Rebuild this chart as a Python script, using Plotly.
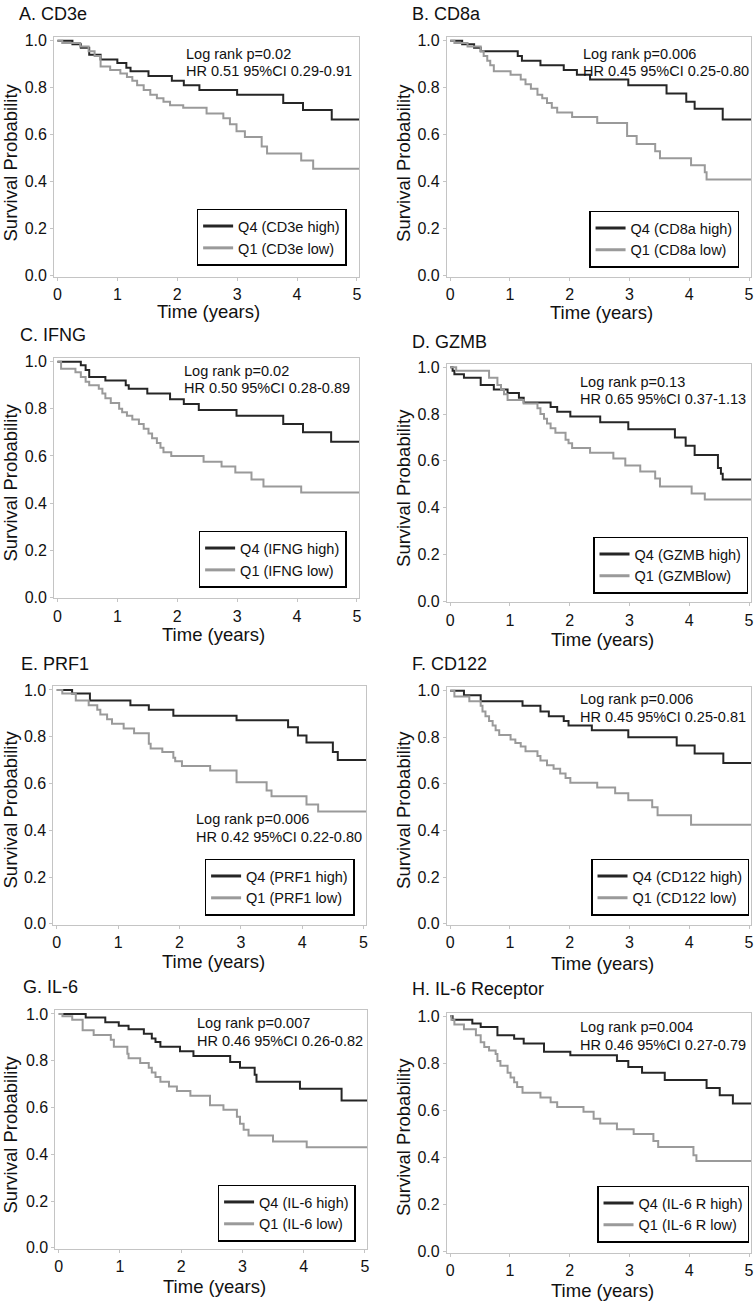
import plotly.graph_objects as go

W, H = 755, 1305

# ---------------- data (Kaplan-Meier step curves) ----------------
A_q4_t = [0, 0.25, 0.39, 0.53, 0.72, 1.0, 1.15, 1.22, 1.52, 1.91, 2.11, 2.37, 3.0, 3.77, 4.1, 4.58, 5.05]
A_q4_s = [1.0, 0.985, 0.97, 0.94, 0.92, 0.905, 0.885, 0.87, 0.85, 0.83, 0.81, 0.79, 0.77, 0.735, 0.705, 0.665, 0.665]
A_q1_t = [0, 0.08, 0.38, 0.52, 0.62, 0.72, 0.88, 1.05, 1.16, 1.25, 1.33, 1.44, 1.55, 1.66, 1.77, 1.88, 2.1, 2.49, 2.77, 2.88, 2.99, 3.13, 3.41, 3.5, 4.07, 4.27, 5.05]
A_q1_s = [1.0, 0.99, 0.975, 0.955, 0.935, 0.89, 0.875, 0.86, 0.845, 0.83, 0.81, 0.79, 0.77, 0.755, 0.74, 0.725, 0.715, 0.69, 0.67, 0.645, 0.615, 0.59, 0.55, 0.52, 0.49, 0.455, 0.455]

B_q4_t = [0, 0.2, 0.4, 0.51, 1.13, 1.2, 1.51, 1.9, 2.12, 2.34, 2.98, 3.62, 3.95, 4.09, 4.56, 5.05]
B_q4_s = [1.0, 0.985, 0.97, 0.955, 0.935, 0.915, 0.895, 0.875, 0.855, 0.835, 0.81, 0.775, 0.74, 0.71, 0.665, 0.665]
B_q1_t = [0, 0.07, 0.29, 0.51, 0.56, 0.62, 0.67, 0.73, 1.01, 1.18, 1.26, 1.35, 1.46, 1.54, 1.62, 1.7, 1.79, 2.04, 2.46, 2.96, 3.12, 3.43, 3.51, 4.03, 4.26, 4.29, 5.05]
B_q1_s = [1.0, 0.99, 0.975, 0.955, 0.935, 0.915, 0.895, 0.87, 0.855, 0.835, 0.815, 0.795, 0.77, 0.755, 0.735, 0.715, 0.695, 0.675, 0.65, 0.595, 0.56, 0.53, 0.5, 0.47, 0.44, 0.41, 0.41]

C_q4_t = [0, 0.39, 0.47, 0.53, 0.8, 1.14, 1.19, 1.5, 1.88, 2.11, 2.36, 2.99, 3.77, 4.1, 4.57, 5.05]
C_q4_s = [1.0, 0.985, 0.965, 0.935, 0.92, 0.9, 0.885, 0.865, 0.84, 0.82, 0.795, 0.77, 0.735, 0.7, 0.66, 0.66]
C_q1_t = [0, 0.06, 0.3, 0.39, 0.47, 0.53, 0.69, 0.75, 0.8, 0.89, 1.03, 1.08, 1.16, 1.25, 1.36, 1.44, 1.52, 1.58, 1.66, 1.72, 1.77, 1.9, 2.44, 2.74, 2.97, 3.24, 3.44, 4.07, 5.05]
C_q1_s = [1.0, 0.97, 0.955, 0.935, 0.915, 0.9, 0.885, 0.865, 0.845, 0.825, 0.8, 0.785, 0.77, 0.755, 0.735, 0.715, 0.695, 0.675, 0.655, 0.635, 0.615, 0.6, 0.575, 0.555, 0.53, 0.5, 0.47, 0.445, 0.445]

D_q4_t = [0, 0.04, 0.07, 0.23, 0.51, 0.73, 0.96, 1.15, 1.23, 1.68, 1.79, 2.01, 2.51, 2.98, 3.76, 3.94, 4.09, 4.48, 4.53, 4.56, 5.05]
D_q4_s = [1.0, 0.985, 0.97, 0.955, 0.925, 0.905, 0.89, 0.87, 0.85, 0.83, 0.81, 0.79, 0.765, 0.735, 0.70, 0.665, 0.625, 0.57, 0.545, 0.52, 0.52]
D_q1_t = [0, 0.1, 0.65, 0.79, 0.85, 0.9, 0.96, 1.23, 1.46, 1.51, 1.57, 1.62, 1.68, 1.76, 1.93, 1.98, 2.04, 2.34, 2.73, 2.93, 3.18, 3.43, 3.51, 4.04, 4.26, 5.05]
D_q1_s = [1.0, 0.985, 0.955, 0.925, 0.905, 0.885, 0.86, 0.845, 0.825, 0.8, 0.78, 0.76, 0.74, 0.72, 0.69, 0.675, 0.655, 0.635, 0.61, 0.58, 0.555, 0.525, 0.49, 0.46, 0.435, 0.435]

E_q4_t = [0, 0.25, 0.54, 1.2, 1.5, 1.9, 2.93, 3.77, 3.93, 4.07, 4.5, 4.58, 5.05]
E_q4_s = [1.0, 0.985, 0.955, 0.935, 0.915, 0.89, 0.87, 0.84, 0.805, 0.775, 0.735, 0.70, 0.70]
E_q1_t = [0, 0.09, 0.31, 0.52, 0.66, 0.71, 0.82, 0.9, 1.09, 1.26, 1.5, 1.53, 1.72, 1.9, 1.93, 2.04, 2.5, 2.93, 3.42, 3.5, 4.07, 4.26, 5.05]
E_q1_s = [1.0, 0.985, 0.955, 0.935, 0.915, 0.895, 0.875, 0.855, 0.835, 0.815, 0.77, 0.75, 0.735, 0.71, 0.695, 0.675, 0.655, 0.605, 0.57, 0.545, 0.51, 0.48, 0.48]

F_q4_t = [0, 0.23, 0.51, 1.21, 1.51, 1.65, 1.9, 1.98, 2.37, 2.98, 3.79, 4.09, 4.57, 5.05]
F_q4_s = [1.0, 0.98, 0.955, 0.935, 0.91, 0.89, 0.87, 0.85, 0.83, 0.80, 0.765, 0.73, 0.69, 0.69]
F_q1_t = [0, 0.07, 0.32, 0.51, 0.54, 0.59, 0.65, 0.71, 0.76, 0.82, 1.01, 1.09, 1.18, 1.26, 1.46, 1.51, 1.62, 1.73, 1.84, 1.93, 2.01, 2.46, 2.76, 2.98, 3.38, 3.47, 4.03, 5.05]
F_q1_s = [1.0, 0.975, 0.955, 0.935, 0.91, 0.89, 0.87, 0.85, 0.83, 0.81, 0.79, 0.775, 0.76, 0.74, 0.72, 0.70, 0.68, 0.665, 0.645, 0.625, 0.605, 0.585, 0.56, 0.53, 0.5, 0.465, 0.425, 0.425]

G_q4_t = [0, 0.44, 0.76, 0.98, 1.14, 1.39, 1.52, 1.58, 1.66, 1.98, 2.2, 2.8, 2.96, 3.2, 3.23, 3.94, 4.62, 5.05]
G_q4_s = [1.0, 0.985, 0.965, 0.95, 0.935, 0.915, 0.895, 0.88, 0.86, 0.84, 0.82, 0.795, 0.77, 0.74, 0.71, 0.68, 0.63, 0.63]
G_q1_t = [0, 0.06, 0.22, 0.39, 0.57, 0.85, 0.9, 1.12, 1.14, 1.33, 1.47, 1.52, 1.58, 1.66, 1.8, 1.93, 2.15, 2.47, 2.69, 2.91, 2.96, 3.02, 3.1, 3.5, 4.05, 5.05]
G_q1_s = [1.0, 0.99, 0.975, 0.93, 0.91, 0.89, 0.86, 0.83, 0.81, 0.79, 0.77, 0.75, 0.73, 0.71, 0.69, 0.67, 0.65, 0.61, 0.59, 0.56, 0.53, 0.505, 0.48, 0.455, 0.43, 0.43]

H_q4_t = [0, 0.04, 0.37, 0.51, 0.79, 1.07, 1.23, 1.57, 2.01, 2.79, 2.98, 3.21, 3.59, 4.29, 4.51, 4.73, 5.05]
H_q4_s = [1.0, 0.985, 0.97, 0.955, 0.92, 0.905, 0.885, 0.85, 0.835, 0.81, 0.785, 0.76, 0.73, 0.695, 0.665, 0.63, 0.63]
H_q1_t = [0, 0.02, 0.07, 0.23, 0.43, 0.51, 0.57, 0.65, 0.76, 0.79, 0.84, 0.96, 1.01, 1.07, 1.12, 1.21, 1.51, 1.68, 1.79, 2.23, 2.4, 2.51, 2.79, 3.07, 3.4, 3.48, 4.07, 4.12, 5.05]
H_q1_s = [1.0, 0.985, 0.965, 0.945, 0.92, 0.89, 0.87, 0.855, 0.84, 0.81, 0.79, 0.76, 0.74, 0.72, 0.70, 0.675, 0.655, 0.635, 0.615, 0.595, 0.565, 0.545, 0.52, 0.5, 0.47, 0.445, 0.41, 0.385, 0.385]

titles = ["A. CD3e", "B. CD8a", "C. IFNG", "D. GZMB", "E. PRF1", "F. CD122", "G. IL-6", "H. IL-6 Receptor"]
high_labels = ["Q4 (CD3e high)", "Q4 (CD8a high)", "Q4 (IFNG high)", "Q4 (GZMB high)",
               "Q4 (PRF1 high)", "Q4 (CD122 high)", "Q4 (IL-6 high)", "Q4 (IL-6 R high)"]
low_labels = ["Q1 (CD3e low)", "Q1 (CD8a low)", "Q1 (IFNG low)", "Q1 (GZMBlow)",
              "Q1 (PRF1 low)", "Q1 (CD122 low)", "Q1 (IL-6 low)", "Q1 (IL-6 R low)"]
logrank = ["Log rank p=0.02", "Log rank p=0.006", "Log rank p=0.02", "Log rank p=0.13",
           "Log rank p=0.006", "Log rank p=0.006", "Log rank p=0.007", "Log rank p=0.004"]
hr_text = ["HR 0.51 95%CI 0.29-0.91", "HR 0.45 95%CI 0.25-0.80", "HR 0.50 95%CI 0.28-0.89",
           "HR 0.65 95%CI 0.37-1.13", "HR 0.42 95%CI 0.22-0.80", "HR 0.45 95%CI 0.25-0.81",
           "HR 0.46 95%CI 0.26-0.82", "HR 0.46 95%CI 0.27-0.79"]
x_ticks = [0, 1, 2, 3, 4, 5]
y_ticks = [0.0, 0.2, 0.4, 0.6, 0.8, 1.0]

curves = [
    (A_q4_t, A_q4_s, A_q1_t, A_q1_s), (B_q4_t, B_q4_s, B_q1_t, B_q1_s),
    (C_q4_t, C_q4_s, C_q1_t, C_q1_s), (D_q4_t, D_q4_s, D_q1_t, D_q1_s),
    (E_q4_t, E_q4_s, E_q1_t, E_q1_s), (F_q4_t, F_q4_s, F_q1_t, F_q1_s),
    (G_q4_t, G_q4_s, G_q1_t, G_q1_s), (H_q4_t, H_q4_s, H_q1_t, H_q1_s),
]

# ---------------- layout geometry (pixels) ----------------
# (px of x=0, px of x=5, py of y=1, py of y=0)
axes_px = [
    (56.7, 357.3, 36.0, 273.3), (451.0, 751.0, 36.0, 273.3),
    (56.7, 357.3, 360.0, 597.7), (451.0, 751.0, 365.7, 601.7),
    (56.0, 364.0, 691.3, 927.3), (451.0, 751.0, 692.0, 927.3),
    (58.0, 365.3, 1018.3, 1254.3), (451.0, 751.0, 1020.7, 1258.3),
]
title_px = [(16, 9), (411, 9), (17, 333), (411, 340), (18, 665), (411, 665), (20, 991), (411, 993)]
ytitle_px = [(10, 159), (404, 159), (10, 482), (404, 487), (10, 812), (404, 812), (10, 1140), (404, 1142)]
xtitle_px = [(208, 309), (603, 310), (213, 635), (604, 640), (213, 965), (604, 967), (214, 1293), (604, 1297)]
ann_pos = [(2.12, 0.944, 0.871), (2.19, 0.944, 0.871), (2.08, 0.962, 0.888), (2.13, 0.939, 0.864),
           (2.23, 0.448, 0.373), (2.13, 0.963, 0.888), (2.23, 0.96, 0.883), (2.13, 0.954, 0.877)]
legend_px = [(347, 263), (741, 265), (347, 588), (750, 594), (355, 919), (751, 919), (356, 1248), (751, 1249)]

XR = [-0.055, 5.04]
YR = [-0.005, 1.016]

FONT = "Arial, Liberation Sans, Helvetica, sans-serif"
TXT = "#111111"
DARK = "#262626"
LIGHT = "#9a9a9a"
FRAME = "#c4c4c4"

fig = go.Figure()
annotations = []
layout = {}

for i in range(8):
    n = "" if i == 0 else str(i + 1)
    xa, ya = "x" + n, "y" + n
    leg = "legend" + n
    x0p, x5p, y1p, y0p = axes_px[i]
    sx = (x5p - x0p) / 5.0
    sy = (y0p - y1p)
    left = x0p + XR[0] * sx
    right = x0p + XR[1] * sx
    top = y0p - YR[1] * sy
    bottom = y0p - YR[0] * sy

    q4t, q4s, q1t, q1s = curves[i]
    fig.add_trace(go.Scatter(x=q4t, y=q4s, mode="lines", line=dict(color=DARK, width=2, shape="hv"),
                             name=high_labels[i], xaxis=xa, yaxis=ya, showlegend=False))
    fig.add_trace(go.Scatter(x=q1t, y=q1s, mode="lines", line=dict(color=LIGHT, width=2, shape="hv"),
                             name=low_labels[i], xaxis=xa, yaxis=ya, showlegend=False))
    # legend entries (thicker key lines as in the reference)
    fig.add_trace(go.Scatter(x=[None], y=[None], mode="lines", line=dict(color=DARK, width=3),
                             name=high_labels[i], xaxis=xa, yaxis=ya, legend=leg, showlegend=True))
    fig.add_trace(go.Scatter(x=[None], y=[None], mode="lines", line=dict(color=LIGHT, width=3),
                             name=low_labels[i], xaxis=xa, yaxis=ya, legend=leg, showlegend=True))

    layout["xaxis" + n] = dict(
        domain=[left / W, right / W], range=XR, anchor=ya,
        tickvals=x_ticks, ticks="outside", ticklen=3, tickcolor=FRAME,
        showline=True, mirror=True, linecolor=FRAME, linewidth=1,
        showgrid=False, zeroline=False, tickfont=dict(size=16, color=TXT, family=FONT),
    )
    layout["yaxis" + n] = dict(
        domain=[1 - bottom / H, 1 - top / H], range=YR, anchor=xa,
        tickvals=y_ticks, tickformat=".1f", ticks="outside", ticklen=3, tickcolor=FRAME,
        showline=True, mirror=True, linecolor=FRAME, linewidth=1,
        showgrid=False, zeroline=False, tickfont=dict(size=16, color=TXT, family=FONT),
    )
    lx, ly = legend_px[i]
    layout[leg] = dict(
        x=lx / W, y=1 - ly / H, xanchor="right", yanchor="bottom",
        bordercolor="black", borderwidth=1.5, bgcolor="white",
        font=dict(size=14.5, color=TXT, family=FONT), tracegroupgap=0,
        itemwidth=30,
    )

    tx, ty = title_px[i]
    annotations.append(dict(text=titles[i], xref="paper", yref="paper", x=tx / W, y=1 - ty / H,
                            xanchor="left", yanchor="middle", showarrow=False,
                            font=dict(size=18, color=TXT, family=FONT)))
    yx, yy = ytitle_px[i]
    annotations.append(dict(text="Survival Probability", xref="paper", yref="paper", x=yx / W, y=1 - yy / H,
                            xanchor="center", yanchor="middle", textangle=-90, showarrow=False,
                            font=dict(size=18.5, color=TXT, family=FONT)))
    xx, xy = xtitle_px[i]
    annotations.append(dict(text="Time (years)", xref="paper", yref="paper", x=xx / W, y=1 - xy / H,
                            xanchor="center", yanchor="middle", showarrow=False,
                            font=dict(size=18.5, color=TXT, family=FONT)))
    at, a1, a2 = ann_pos[i]
    annotations.append(dict(text=logrank[i], xref=xa, yref=ya, x=at, y=a1, xanchor="left", yanchor="middle",
                            showarrow=False, font=dict(size=14.5, color=TXT, family=FONT)))
    annotations.append(dict(text=hr_text[i], xref=xa, yref=ya, x=at, y=a2, xanchor="left", yanchor="middle",
                            showarrow=False, font=dict(size=14.5, color=TXT, family=FONT)))

fig.update_layout(
    width=W, height=H, margin=dict(l=0, r=0, t=0, b=0),
    paper_bgcolor="white", plot_bgcolor="white",
    font=dict(family=FONT, color=TXT),
    annotations=annotations,
    **layout,
)

fig.write_html("out.html", config={"displayModeBar": False},
               post_script="document.body.style.margin='0';document.body.style.overflow='hidden';")
